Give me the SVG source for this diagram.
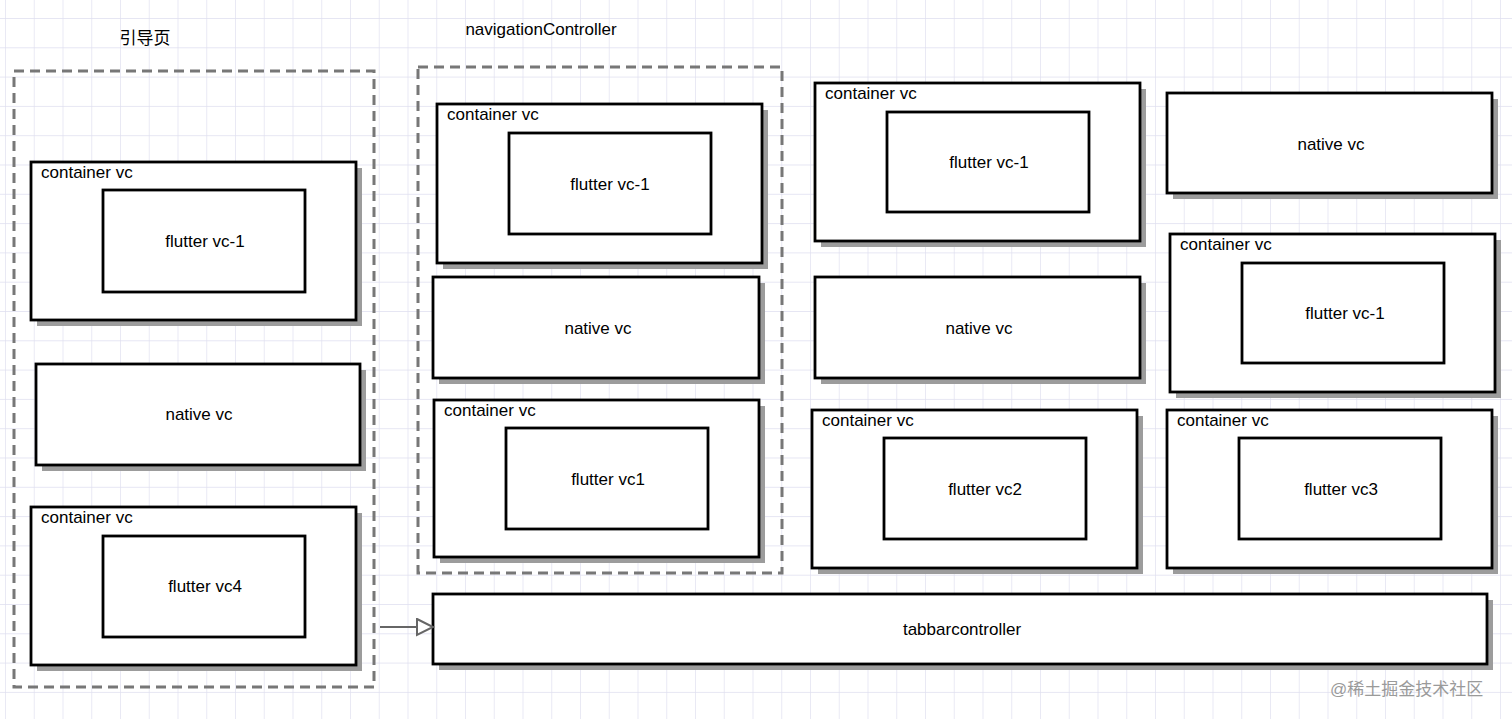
<svg xmlns="http://www.w3.org/2000/svg" width="1512" height="719" viewBox="0 0 1512 719">
<defs>
<pattern id="grid" x="5" y="18" width="28.75" height="29.3" patternUnits="userSpaceOnUse">
<path d="M0 0V29.3M0 0H28.75" fill="none" stroke="#dedeef" stroke-width="1.3"/>
</pattern>
<filter id="sh" x="-5%" y="-5%" width="115%" height="120%">
<feGaussianBlur stdDeviation="0.7"/>
</filter>
<marker id="tri" markerWidth="20" markerHeight="20" refX="17" refY="9" orient="auto" markerUnits="userSpaceOnUse">
<path d="M1 1 L17 9 L1 17 Z" fill="#fff" stroke="#666" stroke-width="2"/>
</marker>
</defs>
<style>
.box{fill:#fff;stroke:#000;stroke-width:2.8}
.shadow{fill:#9c9c9c;filter:url(#sh)}
.inner{fill:#fff;stroke:#000;stroke-width:2.8}
.dash{fill:none;stroke:#777;stroke-width:3;stroke-dasharray:10 6}
text{font-family:"Liberation Sans",Arial,"Noto Sans CJK SC",sans-serif;font-size:17px;fill:#000}
.c{text-anchor:middle}
.wm{fill:#9a9a9a;font-size:17px}
</style>
<rect width="1512" height="719" fill="#fff"/>
<rect width="1512" height="719" fill="url(#grid)"/>

<g id="group-guide">
<rect class="dash" x="14" y="71" width="360" height="616"/>
<text class="c" x="145" y="44">引导页</text>
</g>
<g id="group-nav">
<rect class="dash" x="418" y="67" width="364" height="506"/>
<text class="c" x="541" y="35">navigationController</text>
</g>

<g id="guide-container-1">
<rect class="shadow" x="37" y="168" width="325" height="158"/>
<rect class="box" x="31" y="162" width="325" height="158"/>
<text x="41" y="178">container vc</text>
<rect class="inner" x="103" y="190" width="202" height="102"/>
<text class="c" x="205" y="247">flutter vc-1</text>
</g>
<g id="guide-native">
<rect class="shadow" x="42" y="370" width="324" height="101"/>
<rect class="box" x="36" y="364" width="324" height="101"/>
<text class="c" x="199" y="420">native vc</text>
</g>
<g id="guide-container-2">
<rect class="shadow" x="37" y="513" width="325" height="158"/>
<rect class="box" x="31" y="507" width="325" height="158"/>
<text x="41" y="523">container vc</text>
<rect class="inner" x="103" y="536" width="202" height="101"/>
<text class="c" x="205" y="592">flutter vc4</text>
</g>

<g id="nav-container-1">
<rect class="shadow" x="443" y="110" width="325" height="159"/>
<rect class="box" x="437" y="104" width="325" height="159"/>
<text x="447" y="120">container vc</text>
<rect class="inner" x="509" y="133" width="202" height="101"/>
<text class="c" x="610" y="190">flutter vc-1</text>
</g>
<g id="nav-native">
<rect class="shadow" x="439" y="283" width="326" height="101"/>
<rect class="box" x="433" y="277" width="326" height="101"/>
<text class="c" x="598" y="334">native vc</text>
</g>
<g id="nav-container-2">
<rect class="shadow" x="440" y="406" width="325" height="157"/>
<rect class="box" x="434" y="400" width="325" height="157"/>
<text x="444" y="416">container vc</text>
<rect class="inner" x="506" y="428" width="202" height="101"/>
<text class="c" x="608" y="485">flutter vc1</text>
</g>

<g id="col3-container-1">
<rect class="shadow" x="821" y="89" width="325" height="158"/>
<rect class="box" x="815" y="83" width="325" height="158"/>
<text x="825" y="99">container vc</text>
<rect class="inner" x="887" y="112" width="202" height="100"/>
<text class="c" x="989" y="168">flutter vc-1</text>
</g>
<g id="col3-native">
<rect class="shadow" x="821" y="283" width="325" height="101"/>
<rect class="box" x="815" y="277" width="325" height="101"/>
<text class="c" x="979" y="334">native vc</text>
</g>
<g id="col3-container-2">
<rect class="shadow" x="818" y="416" width="325" height="158"/>
<rect class="box" x="812" y="410" width="325" height="158"/>
<text x="822" y="426">container vc</text>
<rect class="inner" x="884" y="438" width="202" height="101"/>
<text class="c" x="985" y="495">flutter vc2</text>
</g>

<g id="col4-native">
<rect class="shadow" x="1173" y="99" width="325" height="100"/>
<rect class="box" x="1167" y="93" width="325" height="100"/>
<text class="c" x="1331" y="150">native vc</text>
</g>
<g id="col4-container-1">
<rect class="shadow" x="1176" y="240" width="325" height="158"/>
<rect class="box" x="1170" y="234" width="325" height="158"/>
<text x="1180" y="250">container vc</text>
<rect class="inner" x="1242" y="263" width="202" height="100"/>
<text class="c" x="1345" y="319">flutter vc-1</text>
</g>
<g id="col4-container-2">
<rect class="shadow" x="1173" y="416" width="325" height="158"/>
<rect class="box" x="1167" y="410" width="325" height="158"/>
<text x="1177" y="426">container vc</text>
<rect class="inner" x="1239" y="438" width="202" height="101"/>
<text class="c" x="1341" y="495">flutter vc3</text>
</g>

<g id="tabbar">
<rect class="shadow" x="439" y="600" width="1054" height="70"/>
<rect class="box" x="433" y="594" width="1054" height="70"/>
<text class="c" x="962" y="635">tabbarcontroller</text>
</g>

<g id="connectors">
<line x1="380" y1="627" x2="433" y2="627" stroke="#666" stroke-width="2" marker-end="url(#tri)"/>
</g>

<text class="wm" x="1330" y="695">@稀土掘金技术社区</text>
</svg>
